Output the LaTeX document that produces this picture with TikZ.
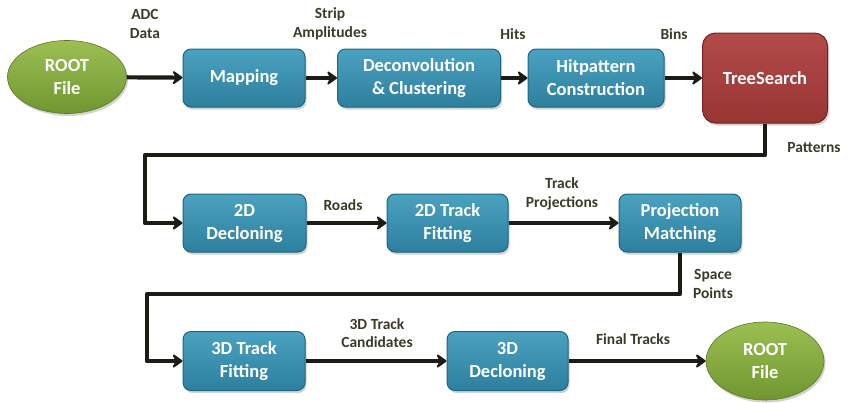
\documentclass[tikz,border=0pt]{standalone}
\usepackage{fontspec}
\setmainfont{Carlito}
\usetikzlibrary{shapes.geometric,arrows.meta,shadows}
\definecolor{boxtop}{HTML}{4AA2C0}
\definecolor{boxbot}{HTML}{2D7F9E}
\definecolor{boxline}{HTML}{1E6580}
\definecolor{redtop}{HTML}{B24A48}
\definecolor{redbot}{HTML}{983634}
\definecolor{redline}{HTML}{6E2524}
\definecolor{grtop}{HTML}{9CBF52}
\definecolor{grbot}{HTML}{6F9630}
\definecolor{labcol}{HTML}{3C3A27}
\definecolor{linecol}{HTML}{1C1C14}
\tikzset{
  stage/.style={rectangle, rounded corners=8pt, top color=boxtop, bottom color=boxbot,
    draw=boxline, line width=1pt, minimum height=58pt, inner sep=0pt, align=center,
    text=white, font=\fontsize{18.5}{23}\selectfont\bfseries,
    drop shadow={shadow xshift=1.5pt, shadow yshift=-2.5pt, opacity=.35}},
  redstage/.style={stage, rounded corners=13pt, top color=redtop, bottom color=redbot, draw=redline},
  rootfile/.style={ellipse, top color=grtop, bottom color=grbot, draw=grbot!80!black, line width=.6pt,
    inner sep=0pt, align=center, text=white, font=\fontsize{18.5}{23}\selectfont\bfseries,
    drop shadow={shadow xshift=1.5pt, shadow yshift=-2.5pt, opacity=.35}},
  lab/.style={text=labcol, align=center, font=\fontsize{15.5}{18.5}\selectfont\bfseries, inner sep=0pt},
  arr/.style={draw=linecol, line width=4.2pt, line join=round,
    -{Stealth[length=12pt, width=17pt, inset=4.5pt, round]}},
}
\begin{document}
\begin{tikzpicture}[x=1pt, y=-1pt]
\useasboundingbox (0,0) rectangle (852,402);
% row 1
\node[rootfile, minimum width=119pt, minimum height=73pt] (root1) at (67,77) {ROOT\\File};
\node[stage, minimum width=122pt] (map) at (244,78) {Mapping};
\node[stage, minimum width=163pt] (deconv) at (419,78) {Deconvolution\\\& Clustering};
\node[stage, minimum width=136pt] (hitp) at (596,78) {Hitpattern\\Construction};
\node[redstage, minimum width=125pt, minimum height=90pt] (tree) at (765,78) {TreeSearch};
% row 2
\node[stage, minimum width=123pt] (dec2) at (244.5,223) {2D\\Decloning};
\node[stage, minimum width=121pt] (fit2) at (447.5,223) {2D Track\\Fitting};
\node[stage, minimum width=122pt] (pm) at (680,223) {Projection\\Matching};
% row 3
\node[stage, minimum width=122pt, minimum height=59pt] (fit3) at (244,361) {3D Track\\Fitting};
\node[stage, minimum width=121pt, minimum height=59pt] (dec3) at (507.5,361) {3D\\Decloning};
\node[rootfile, minimum width=118pt, minimum height=78pt] (root2) at (765,361) {ROOT\\File};
% labels
\node[lab] (lADC) at (145,24) {ADC\\Data};
\node[lab] (lStrip) at (330,24) {Strip\\Amplitudes};
\node[lab] (lHits) at (513,34) {Hits};
\node[lab] (lBins) at (674,34) {Bins};
\node[lab] (lPat) at (814,148) {Patterns};
\node[lab] (lRoads) at (343,205) {Roads};
\node[lab] (lProj) at (562,194) {Track\\Projections};
\node[lab] (lSpace) at (713,284) {Space\\Points};
\node[lab] (lCand) at (377,333) {3D Track\\Candidates};
\node[lab] (lFinal) at (633,339) {Final Tracks};
% connectors
\coordinate (c1) at (145,155);
\coordinate (c2) at (147,294);
\draw[arr] (root1) -- (map);
\draw[arr] (map) -- (deconv);
\draw[arr] (deconv) -- (hitp);
\draw[arr] (hitp) -- (tree);
\draw[arr] (tree.south) |- (c1) |- (dec2.west);
\draw[arr] (dec2) -- (fit2);
\draw[arr] (fit2) -- (pm);
\draw[arr] (pm.south) |- (c2) |- (fit3.west);
\draw[arr] (fit3) -- (dec3);
\draw[arr] (dec3) -- (root2);
\end{tikzpicture}
\end{document}
